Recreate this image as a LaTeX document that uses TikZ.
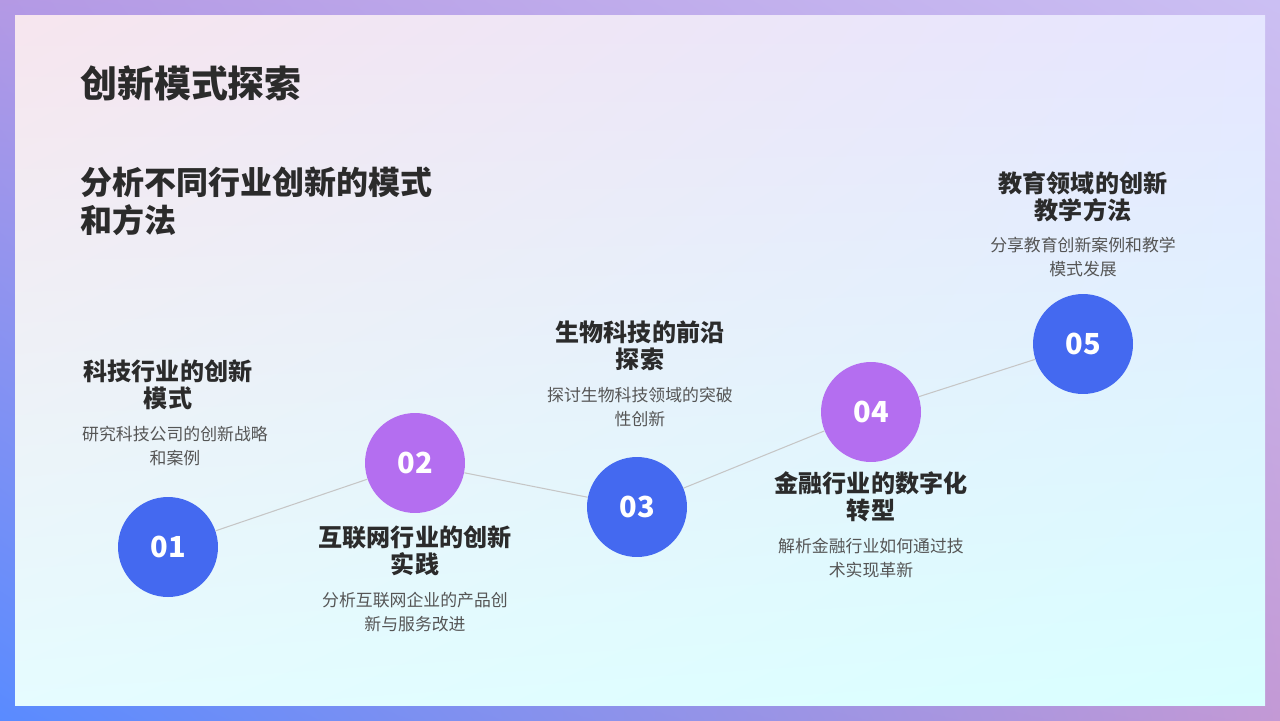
\documentclass[tikz,border=0pt]{standalone}
\usepackage{fontspec}
\setmainfont{Noto Sans CJK SC}
\usepackage{tikz}
\usetikzlibrary{positioning,shadings}
\definecolor{stepblue}{HTML}{4469F0}
\definecolor{steppurple}{HTML}{B46EF0}
\definecolor{headtext}{HTML}{2B2B2B}
\definecolor{bodytext}{HTML}{555555}
\tikzset{
  stepdot/.style={circle, minimum size=2cm, inner sep=0pt, text=white, font=\bfseries\fontsize{16.5}{18}\selectfont},
  stephead/.style={align=center, text=headtext, font=\bfseries\fontsize{13.7}{15.5}\selectfont},
  stepbody/.style={align=center, text=bodytext, font=\fontsize{9.6}{13.3}\selectfont},
  link/.style={draw=gray!45, line width=0.6pt}
}
\begin{document}
\begin{tikzpicture}[x=0.02cm, y=-0.02cm]
    % frame and panel
    \useasboundingbox (0,0) rectangle (1280,720);
    \shade[upper left=purple!35!blue!40, upper right=purple!25!blue!25, lower left=blue!70!cyan!65, lower right=blue!45!purple!40] (0,0) rectangle (1280,720);
    \shade[upper left=blue!12!purple!10!white, upper right=blue!10!white, lower left=blue!12!cyan!10!white, lower right=cyan!15!white] (15,15) rectangle (1265,705);

    % headings
    \node[anchor=west, inner sep=0pt, text=headtext, font=\bfseries\fontsize{21}{24}\selectfont] (title) at (80,83) {创新模式探索};
    \node[anchor=north west, align=left, text=headtext, font=\bfseries\fontsize{18.2}{21.5}\selectfont, inner sep=0pt] (sub) at (80,167) {分析不同行业创新的模式\\和方法};

    % steps
    \node[stepdot, fill=stepblue] (s1) at (168,547) {01};
    \node[stepdot, fill=steppurple] (s2) at (415,463) {02};
    \node[stepdot, fill=stepblue] (s3) at (637,507) {03};
    \node[stepdot, fill=steppurple] (s4) at (871,412) {04};
    \node[stepdot, fill=stepblue] (s5) at (1083,344) {05};

    \draw[link] (s1) -- (s2);
    \draw[link] (s2) -- (s3);
    \draw[link] (s3) -- (s4);
    \draw[link] (s4) -- (s5);

    % labels
    \node[stephead] (h1) at (168,385) {科技行业的创新\\模式};
    \node[stepbody] (b1) at (175,446) {研究科技公司的创新战略\\和案例};
    \node[stephead] (h2) at (415,551) {互联网行业的创新\\实践};
    \node[stepbody] (b2) at (415,612) {分析互联网企业的产品创\\新与服务改进};
    \node[stephead] (h3) at (640,346) {生物科技的前沿\\探索};
    \node[stepbody] (b3) at (640,407) {探讨生物科技领域的突破\\性创新};
    \node[stephead] (h4) at (871,497) {金融行业的数字化\\转型};
    \node[stepbody] (b4) at (871,558) {解析金融行业如何通过技\\术实现革新};
    \node[stephead] (h5) at (1083,197) {教育领域的创新\\教学方法};
    \node[stepbody] (b5) at (1083,257) {分享教育创新案例和教学\\模式发展};
\end{tikzpicture}
\end{document}
